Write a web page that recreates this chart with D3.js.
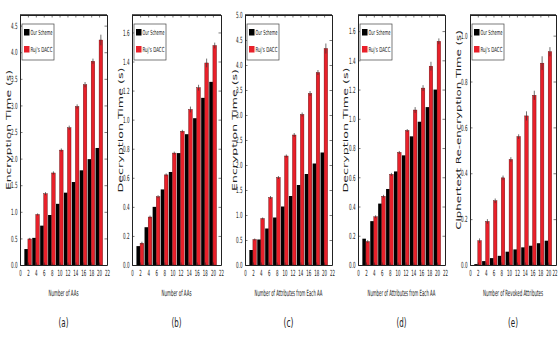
<!DOCTYPE html>
<html>
<head>
<meta charset="utf-8">
<script src="https://cdn.jsdelivr.net/npm/d3@7"></script>
<style>
  body { margin: 0; background: #fff; }
  text { font-family: "Liberation Sans Narrow", "DejaVu Sans Condensed", sans-serif; fill: #222; }
</style>
</head>
<body>
<svg id="chart" width="558" height="339"></svg>
<script>
// data
const xValues = [2, 4, 6, 8, 10, 12, 14, 16, 18, 20];
const xTicks = [0, 2, 4, 6, 8, 10, 12, 14, 16, 18, 20, 22];
const seriesNames = ["Our Scheme", "Ruj's DACC"];

const encAAsOurs = [0.30, 0.51, 0.74, 0.94, 1.15, 1.36, 1.56, 1.78, 1.99, 2.20];
const encAAsRuj  = [0.49, 0.95, 1.34, 1.73, 2.16, 2.58, 2.98, 3.39, 3.83, 4.23];
const decAAsOurs = [0.13, 0.26, 0.40, 0.52, 0.64, 0.77, 0.90, 1.01, 1.15, 1.26];
const decAAsRuj  = [0.15, 0.33, 0.47, 0.62, 0.77, 0.92, 1.07, 1.22, 1.39, 1.51];
const encAttrOurs = [0.30, 0.51, 0.73, 0.95, 1.17, 1.38, 1.60, 1.82, 2.03, 2.25];
const encAttrRuj  = [0.51, 0.93, 1.35, 1.75, 2.18, 2.60, 3.01, 3.43, 3.85, 4.33];
const decAttrOurs = [0.18, 0.30, 0.42, 0.52, 0.64, 0.75, 0.88, 0.98, 1.08, 1.20];
const decAttrRuj  = [0.16, 0.33, 0.47, 0.62, 0.77, 0.92, 1.06, 1.21, 1.36, 1.53];
const reencOurs = [0.004, 0.017, 0.030, 0.040, 0.058, 0.068, 0.077, 0.084, 0.095, 0.106];
const reencRuj  = [0.106, 0.19, 0.28, 0.38, 0.46, 0.56, 0.65, 0.74, 0.88, 0.93];

const errRujSmall = [0.01, 0.01, 0.01, 0.01, 0.01, 0.01, 0.02, 0.02, 0.03, 0.02];
const errRujLarge = [0.02, 0.02, 0.03, 0.03, 0.03, 0.04, 0.04, 0.05, 0.05, 0.10];

const ticksA = [0, 0.5, 1, 1.5, 2, 2.5, 3, 3.5, 4, 4.5];
const ticksB = [0, 0.2, 0.4, 0.6, 0.8, 1.0, 1.2, 1.4, 1.6];
const ticksC = [0, 0.5, 1, 1.5, 2, 2.5, 3, 3.5, 4, 4.5, 5];
const ticksE = [0, 0.2, 0.4, 0.6, 0.8, 1.0];

const panels = [
  { ours: encAAsOurs, ruj: encAAsRuj, err: errRujLarge, yMax: 4.7, yTicks: ticksA,
    yTitle: "Encryption Time (s)", xTitle: "Number of AAs", cap: "(a)",
    left: 20, right: 107, yTitleX: 8, yTitleLen: 120, xTitleLen: 30 },
  { ours: decAAsOurs, ruj: decAAsRuj, err: errRujSmall, yMax: 1.72, yTicks: ticksB,
    yTitle: "Decryption Time (s)", xTitle: "Number of AAs", cap: "(b)",
    left: 132, right: 221, yTitleX: 120, yTitleLen: 125, xTitleLen: 30 },
  { ours: encAttrOurs, ruj: encAttrRuj, err: errRujLarge, yMax: 5.0, yTicks: ticksC,
    yTitle: "Encryption Time (s)", xTitle: "Number of Attributes from Each AA", cap: "(c)",
    left: 245, right: 332, yTitleX: 234, yTitleLen: 122, xTitleLen: 68 },
  { ours: decAttrOurs, ruj: decAttrRuj, err: errRujSmall, yMax: 1.71, yTicks: ticksB,
    yTitle: "Decryption Time (s)", xTitle: "Number of Attributes from Each AA", cap: "(d)",
    left: 358, right: 445, yTitleX: 345, yTitleLen: 125, xTitleLen: 68 },
  { ours: reencOurs, ruj: reencRuj, err: errRujSmall, yMax: 1.09, yTicks: ticksE,
    yTitle: "Ciphertext Re-encryption Time (s)", xTitle: "Number of Revoked Attributes", cap: "(e)",
    left: 470, right: 556, yTitleX: 458, yTitleLen: 200, xTitleLen: 60 }
];

const plotTop = 15, plotBottom = 265;
const svg = d3.select("#chart");
const fmt = d3.format(".1f");

// squeeze a text horizontally to the wanted width (the picture uses a very condensed face)
function squeeze(node, width) {
  return width / node.getComputedTextLength();
}
// text placed at (tx,ty), rotated by rot, squeezed to width along its baseline
function fitText(parent, str, tx, ty, size, width, rot, anchor) {
  const t = parent.append("text").attr("font-size", size)
    .attr("text-anchor", anchor || "middle").text(str);
  const s = squeeze(t.node(), width);
  t.attr("transform", "translate(" + tx + "," + ty + ") rotate(" + (rot || 0) + ") scale(" + s + ",1)");
  return t;
}

panels.forEach((p, pi) => {
  const w = p.right - p.left, h = plotBottom - plotTop;
  const g = svg.append("g").attr("transform", "translate(" + p.left + "," + plotTop + ")");

  const x = d3.scaleLinear().domain([0, 22]).range([0, w]);
  const y = d3.scaleLinear().domain([0, p.yMax]).range([h, 0]);
  const bw = x(0.9) - x(0);

  // bars
  g.selectAll(".ours").data(xValues).enter().append("rect")
    .attr("x", d => x(d) - bw).attr("width", bw)
    .attr("y", (d, i) => y(p.ours[i])).attr("height", (d, i) => h - y(p.ours[i]))
    .attr("fill", "#000");
  g.selectAll(".ruj").data(xValues).enter().append("rect")
    .attr("x", d => x(d)).attr("width", bw)
    .attr("y", (d, i) => y(p.ruj[i])).attr("height", (d, i) => h - y(p.ruj[i]))
    .attr("fill", "#e8202a").attr("stroke", "#5a0a0a").attr("stroke-width", 0.4);

  // error whiskers on red bars
  g.selectAll(".err").data(xValues).enter().append("line")
    .attr("x1", d => x(d) + bw / 2).attr("x2", d => x(d) + bw / 2)
    .attr("y1", (d, i) => y(p.ruj[i] - p.err[i])).attr("y2", (d, i) => y(p.ruj[i] + p.err[i]))
    .attr("stroke", "#333").attr("stroke-width", 0.7);

  // axes, ticks pointing inward like matlab
  const xa = g.append("g").attr("transform", "translate(0," + h + ")")
    .call(d3.axisBottom(x).tickValues(xTicks).tickSizeInner(-2.5).tickSizeOuter(0).tickPadding(5));
  g.append("g").call(d3.axisTop(x).tickValues(xTicks).tickSizeInner(-2.5).tickSizeOuter(0).tickFormat(""));
  const ya = g.append("g")
    .call(d3.axisLeft(y).tickValues(p.yTicks).tickFormat(fmt).tickSizeInner(-2.5).tickSizeOuter(0).tickPadding(2.5));
  g.append("g").attr("transform", "translate(" + w + ",0)")
    .call(d3.axisRight(y).tickValues(p.yTicks).tickSizeInner(-2.5).tickSizeOuter(0).tickFormat(""));
  g.selectAll(".domain").attr("stroke", "#222");
  g.selectAll(".tick line").attr("stroke", "#222").attr("stroke-width", 0.6);
  g.append("line").attr("x1", 0).attr("x2", w).attr("y1", 0).attr("y2", 0)
    .attr("stroke", "#222").attr("stroke-width", 1.6);

  const last = xTicks.length - 1;
  xa.selectAll("text").attr("font-size", 8.5).attr("fill", "#333")
    .style("font-family", "Liberation Sans Narrow, DejaVu Sans Condensed, sans-serif")
    .each(function (d, i) {
      const s = squeeze(this, this.textContent.length * 2.5);
      const t = d3.select(this).attr("transform", "scale(" + s + ",1)");
      if (pi === panels.length - 1 && i === last) t.attr("text-anchor", "end").attr("x", 1 / s);
    });
  ya.selectAll("text").attr("font-size", 8.5).attr("fill", "#333")
    .style("font-family", "Liberation Sans Narrow, DejaVu Sans Condensed, sans-serif")
    .each(function () {
      const s = squeeze(this, 6.5);
      d3.select(this).attr("x", -2.5 / s).attr("transform", "scale(" + s + ",1)");
    });

  // legend
  const lg = g.append("g").attr("transform", "translate(2,9)");
  lg.append("rect").attr("width", 32).attr("height", 36)
    .attr("fill", "#fff").attr("stroke", "#444").attr("stroke-width", 0.7);
  seriesNames.forEach((s, i) => {
    lg.append("rect").attr("x", 2).attr("y", 5 + i * 17).attr("width", 5.5).attr("height", 6.5)
      .attr("fill", i === 0 ? "#000" : "#e8202a");
    fitText(lg, s, 8.5, 11 + i * 17, 7, 22, 0, "start");
  });

  // titles
  const cx = w / 2;
  fitText(g, p.xTitle, cx, 281, 8.5, p.xTitleLen);
  fitText(g, p.cap, cx, 312, 13, 10);
  fitText(svg, p.yTitle, p.yTitleX + 2.5, plotTop + h / 2 - 10, 7, p.yTitleLen, -90)
    .attr("fill", "#444");
});
</script>
</body>
</html>
